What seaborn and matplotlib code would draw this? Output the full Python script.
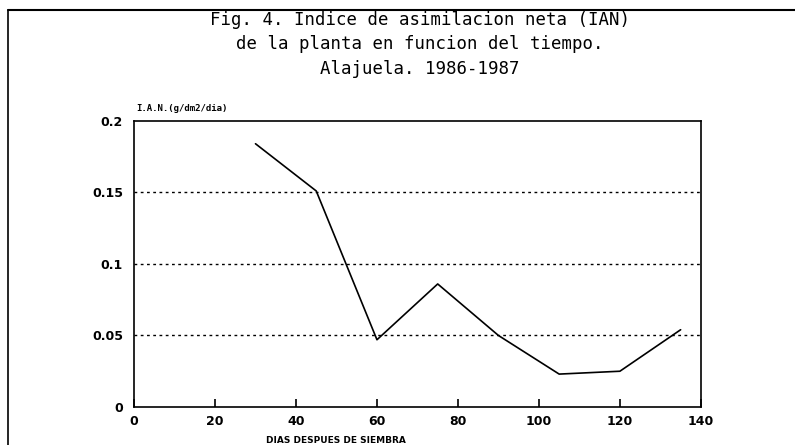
import matplotlib
matplotlib.use("Agg")
import matplotlib.pyplot as plt
from matplotlib.lines import Line2D
import seaborn as sns
import pandas as pd

dias = [30, 45, 60, 75, 90, 105, 120, 135]
ian = [0.184, 0.151, 0.047, 0.086, 0.050, 0.023, 0.025, 0.054]

titulo = "Fig. 4. Indice de asimilacion neta (IAN)\nde la planta en funcion del tiempo.\nAlajuela. 1986-1987"
ylab = "I.A.N.(g/dm2/dia)"
xlab = "DIAS DESPUES DE SIEMBRA"

sns.set_style("white")
plt.rcParams['font.family'] = ['DejaVu Sans Mono', 'DejaVu Sans']
plt.rcParams['text.color'] = 'black'
plt.rcParams['xtick.color'] = 'black'
plt.rcParams['ytick.color'] = 'black'
plt.rcParams['xtick.bottom'] = True
plt.rcParams['xtick.direction'] = 'in'
plt.rcParams['xtick.major.size'] = 6
plt.rcParams['xtick.major.width'] = 1.2

df = pd.DataFrame({"dias": dias, "ian": ian})

fig = plt.figure(figsize=(7.95, 4.45), dpi=100)
ax = fig.add_axes([0.1686, 0.0854, 0.713, 0.643])

for y in [0.05, 0.10, 0.15]:
    ax.axhline(y, color="black", lw=1.0, ls=(0, (2, 2.5)), zorder=1)

sns.lineplot(data=df, x="dias", y="ian", ax=ax, color="black", lw=1.2, zorder=3)

ax.set_xlim(0, 140)
ax.set_ylim(0, 0.2)
ax.set_xticks(range(0, 141, 20))
ax.set_yticks([0, 0.05, 0.1, 0.15, 0.2])
ax.set_yticklabels(["0", "0.05", "0.1", "0.15", "0.2"])
ax.tick_params(axis="x", bottom=True, direction="in", length=6, width=1.2,
               color="black", pad=6, labelsize=9)
ax.tick_params(axis="y", left=False, length=0, pad=8, labelsize=9)
for lab in ax.get_xticklabels() + ax.get_yticklabels():
    lab.set_fontfamily("DejaVu Sans")
    lab.set_fontweight("bold")
ax.set_xlabel("")
ax.set_ylabel("")
for s in ax.spines.values():
    s.set_color("black")
    s.set_linewidth(1.2)

fig.text(0.528, 0.975, titulo, ha="center", va="top", fontsize=12.5, linespacing=1.45)
fig.text(0.172, 0.745, ylab, ha="left", va="bottom", fontsize=6.5, fontweight="bold")
fig.text(0.422, 0.0, xlab, ha="center", va="bottom", fontsize=6.5,
         fontweight="bold", family="DejaVu Sans")

fig.add_artist(Line2D([0.010, 0.010], [0.0, 0.978], transform=fig.transFigure, color="black", lw=1.2))
fig.add_artist(Line2D([0.010, 1.0], [0.978, 0.978], transform=fig.transFigure, color="black", lw=1.5))

fig.savefig("out.png", dpi=100)
